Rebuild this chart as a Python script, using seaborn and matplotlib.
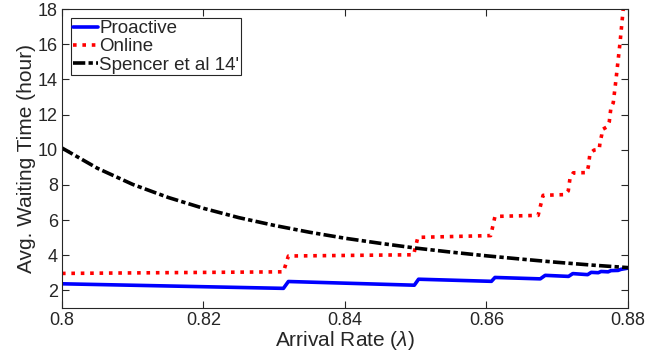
import numpy as np
import matplotlib
matplotlib.use("Agg")
import matplotlib.pyplot as plt
import seaborn as sns

# Proactive (blue, solid)
proactive_x = [0.800, 0.8313, 0.8320, 0.8498, 0.8504, 0.8607, 0.8612, 0.8676, 0.8683,
               0.8716, 0.8722, 0.8743, 0.8748, 0.8758, 0.8762, 0.8772, 0.8776, 0.8786,
               0.8790, 0.8800]
proactive_y = [2.38, 2.12, 2.51, 2.30, 2.64, 2.52, 2.74, 2.66, 2.86,
               2.80, 2.96, 2.90, 3.03, 3.01, 3.08, 3.06, 3.13, 3.14,
               3.20, 3.27]

# Online (red, dotted)
online_x = [0.800, 0.8313, 0.8320, 0.8497, 0.8503, 0.8606, 0.8612, 0.8673, 0.8680,
            0.8711, 0.87156, 0.8718, 0.87227, 0.87416, 0.87439, 0.87463, 0.8752,
            0.87594, 0.87604, 0.87628, 0.87637, 0.87707, 0.87736, 0.87746, 0.8776,
            0.87792, 0.8783, 0.87887, 0.87933, 0.8800]
online_y = [2.97, 3.06, 3.96, 4.03, 5.02, 5.12, 6.21, 6.27, 7.41,
            7.45, 7.66, 8.36, 8.69, 8.70, 9.03, 9.79, 9.98,
            10.03, 10.39, 10.83, 11.15, 11.31, 11.60, 11.97, 12.41,
            12.67, 13.97, 16.06, 18.00, 22.0]

# Spencer et al 14' (black, dash-dot)
spencer_x = [0.800, 0.805, 0.810, 0.815, 0.820, 0.825, 0.830, 0.835, 0.840,
             0.845, 0.850, 0.855, 0.860, 0.865, 0.870, 0.875, 0.880]
spencer_y = [10.10, 8.95, 8.03, 7.29, 6.67, 6.14, 5.70, 5.31, 4.97,
             4.68, 4.41, 4.18, 3.97, 3.78, 3.60, 3.44, 3.30]

x_ticks = [0.8, 0.82, 0.84, 0.86, 0.88]
y_ticks = [2, 4, 6, 8, 10, 12, 14, 16, 18]

sns.set_style("ticks")
plt.rcParams['font.family'] = ['Liberation Sans', 'DejaVu Sans']
plt.rcParams['mathtext.fontset'] = 'custom'
plt.rcParams['mathtext.it'] = 'Liberation Sans:italic'
plt.rcParams['mathtext.rm'] = 'Liberation Sans'

fig = plt.figure(figsize=(6.47, 3.62), dpi=100)
ax = fig.add_axes([0.0958, 0.149, 0.8748, 0.826])

sns.lineplot(x=proactive_x, y=proactive_y, ax=ax, color='#0000ff', linewidth=2.6,
             label='Proactive', estimator=None)
sns.lineplot(x=online_x, y=online_y, ax=ax, color='#ff0000', linewidth=2.6,
             label='Online', estimator=None, linestyle=(0, (1, 1.6)))
sns.lineplot(x=spencer_x, y=spencer_y, ax=ax, color='black', linewidth=2.6,
             label="Spencer et al 14'", estimator=None, linestyle=(0, (3.4, 0.9, 1.2, 0.9)))

ax.set_xlim(0.8, 0.88)
ax.set_ylim(1, 18)
ax.set_xticks(x_ticks)
ax.set_xticklabels(['0.8', '0.82', '0.84', '0.86', '0.88'])
ax.set_yticks(y_ticks)
ax.tick_params(direction='in', length=5, width=0.8, top=True, right=True,
               labelsize=13, colors='#262626', pad=3)
for s in ax.spines.values():
    s.set_color('#262626')
    s.set_linewidth(0.8)

ax.set_xlabel(r'Arrival Rate ($\lambda$)', fontsize=15, color='#262626', labelpad=0)
ax.set_ylabel('Avg. Waiting Time (hour)', fontsize=15, color='#262626', labelpad=1)

leg = ax.legend(loc='upper left', fontsize=13.5, handlelength=1.3, handletextpad=0.1,
                borderpad=0.1, labelspacing=0.05, borderaxespad=0.5,
                fancybox=False, framealpha=1, edgecolor='#262626')
leg.get_frame().set_linewidth(0.8)

fig.savefig('out.png', dpi=100)
